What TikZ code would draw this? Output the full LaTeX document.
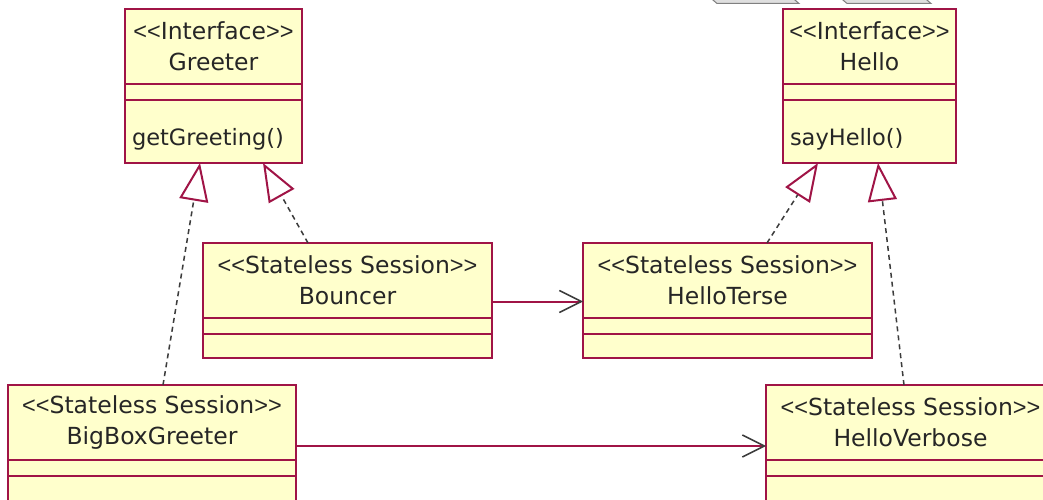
\documentclass[tikz,border=0pt]{standalone}
\usepackage{fontspec}
\setmainfont{DejaVu Sans}
\newfontfamily\chevfont{Liberation Sans}
\usetikzlibrary{arrows.meta, positioning}

\definecolor{umlline}{RGB}{160,20,70}
\definecolor{umlfill}{RGB}{255,255,204}
\definecolor{dashgray}{RGB}{60,60,60}

% stereotype with narrow chevrons
\newcommand{\stereo}[1]{{\chevfont<{}<}#1{\chevfont>{}>}}

\begin{document}
\begin{tikzpicture}[
    x=1pt, y=-1pt,
    % Node styles
    classhead/.style={
        draw=umlline, fill=umlfill, line width=2pt, outer sep=0pt,
        minimum height=75pt, inner sep=0pt, align=center,
        font=\fontsize{23.5}{31}\selectfont, text=black!85,
    },
    classpart/.style={
        draw=umlline, fill=umlfill, line width=2pt, outer sep=0pt,
        inner sep=0pt, minimum height=16pt,
    },
    classops/.style={
        classpart, inner xsep=7pt, align=left,
        text height=29pt, text depth=0pt, text=black!85,
        font=\fontsize{22.5}{31}\selectfont,
    },
    % Edge styles
    realize/.style={
        draw=dashgray, dash pattern=on 5pt off 4pt, line width=1.5pt,
        -{Triangle[open, length=38pt, width=29pt, color=umlline, line width=2pt]},
    },
    uses/.style={
        draw=umlline, line width=2pt,
        -{Straight Barb[length=22pt, width=22pt, color=dashgray, line width=1.5pt]},
    },
  ]
  \clip (0,0) rectangle (1043,500);
  \fill[white] (0,0) rectangle (1043,500);

  % window tabs peeking in at the top
  \filldraw[fill=gray!25, draw=gray, line width=1pt]
    (706,-6) -- (717,3.5) -- (799,3.5) -- (788,-6) -- cycle;
  \filldraw[fill=gray!25, draw=gray, line width=1pt]
    (836,-6) -- (847,3.5) -- (931,3.5) -- (920,-6) -- cycle;

  % interfaces
  \node[classhead, minimum width=177pt] (greeter) at (213.5,46.5)
    {\stereo{Interface}\\Greeter};
  \node[classpart, minimum width=177pt, below=0pt of greeter] (greeter-attr) {};
  \node[classops, text width=163pt, minimum height=63pt, below=0pt of greeter-attr]
    (greeter-ops) {getGreeting()};

  \node[classhead, minimum width=173pt] (hello) at (869.5,46.5)
    {\stereo{Interface}\\Hello};
  \node[classpart, minimum width=173pt, below=0pt of hello] (hello-attr) {};
  \node[classops, text width=159pt, minimum height=63pt, below=0pt of hello-attr]
    (hello-ops) {sayHello()};

  % session beans
  \node[classhead, minimum width=289pt] (bouncer) at (347.5,280.5)
    {\stereo{Stateless Session}\\Bouncer};
  \node[classpart, minimum width=289pt, below=0pt of bouncer] (bouncer-attr) {};
  \node[classpart, minimum width=289pt, minimum height=24pt, below=0pt of bouncer-attr]
    (bouncer-ops) {};

  \node[classhead, minimum width=289pt] (helloterse) at (727.5,280.5)
    {\stereo{Stateless Session}\\HelloTerse};
  \node[classpart, minimum width=289pt, below=0pt of helloterse] (helloterse-attr) {};
  \node[classpart, minimum width=289pt, minimum height=24pt, below=0pt of helloterse-attr]
    (helloterse-ops) {};

  \node[classhead, minimum width=288pt] (bigbox) at (152,422.5)
    {\stereo{Stateless Session}\\BigBoxGreeter};
  \node[classpart, minimum width=288pt, below=0pt of bigbox] (bigbox-attr) {};
  \node[classpart, minimum width=288pt, minimum height=40pt, below=0pt of bigbox-attr]
    (bigbox-ops) {};

  \node[classhead, minimum width=289pt] (helloverbose) at (910.5,422.5)
    {\stereo{Stateless Session}\\HelloVerbose};
  \node[classpart, minimum width=289pt, below=0pt of helloverbose] (helloverbose-attr) {};
  \node[classpart, minimum width=289pt, minimum height=40pt, below=0pt of helloverbose-attr]
    (helloverbose-ops) {};

  % realizations
  \draw[realize] ([xshift=11pt]bigbox.north) -- ([xshift=-13.5pt]greeter-ops.south);
  \draw[realize] ([xshift=-39.5pt]bouncer.north) -- ([xshift=49.5pt]greeter-ops.south);
  \draw[realize] ([xshift=39.5pt]helloterse.north) -- ([xshift=-51.5pt]hello-ops.south);
  \draw[realize] ([xshift=-6.5pt]helloverbose.north) -- ([xshift=8.5pt]hello-ops.south);

  % associations
  \draw[uses] ([yshift=-21pt]bouncer.east) -- ([yshift=-21pt]helloterse.west);
  \draw[uses] ([yshift=-23.5pt]bigbox.east) -- ([yshift=-23.5pt]helloverbose.west);
\end{tikzpicture}
\end{document}
